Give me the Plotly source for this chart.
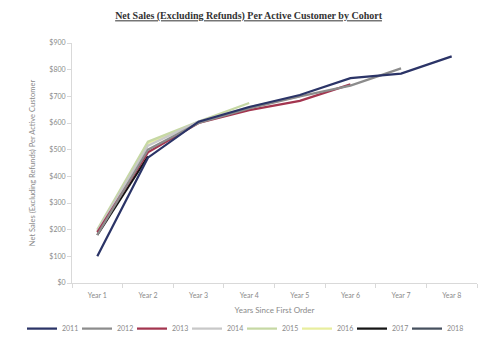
import plotly.graph_objects as go

years = ["Year 1", "Year 2", "Year 3", "Year 4", "Year 5", "Year 6", "Year 7", "Year 8"]
y_ticks = [0, 100, 200, 300, 400, 500, 600, 700, 800, 900]
y_tick_labels = ["$0", "$100", "$200", "$300", "$400", "$500", "$600", "$700", "$800", "$900"]

cohort_2011 = [100, 470, 605, 660, 705, 768, 785, 850]
cohort_2012 = [180, 500, 600, 655, 700, 740, 805]
cohort_2013 = [190, 490, 600, 648, 683, 745]
cohort_2014 = [195, 515, 605, 660, 700]
cohort_2015 = [200, 530, 605, 675]
cohort_2016 = [195, 525, 600]
cohort_2017 = [180, 475]
cohort_2018 = [190]

cohort_names = ["2011", "2012", "2013", "2014", "2015", "2016", "2017", "2018"]
cohort_values = [cohort_2011, cohort_2012, cohort_2013, cohort_2014,
                 cohort_2015, cohort_2016, cohort_2017, cohort_2018]
cohort_colors = ["#2b3467", "#8c8c8c", "#a3354f", "#c8c8c8",
                 "#c6d8a4", "#e8ee9e", "#151515", "#46505e"]

W, H = 478, 352
ML, MR, MT, MB = 72, 1, 43, 69
plot_w = W - ML - MR
LEGEND_START, LEGEND_STEP = 22, 55

fig = go.Figure()
# draw in reverse so 2011 is on top
for i in reversed(range(len(cohort_names))):
    vals = cohort_values[i]
    leg = "legend" if i == 0 else f"legend{i + 1}"
    fig.add_trace(go.Scatter(
        x=years[:len(vals)], y=vals, name=cohort_names[i], mode="lines",
        line=dict(color=cohort_colors[i], width=2.25), legend=leg,
        showlegend=True,
    ))

legend_common = dict(
    orientation="h", xanchor="left", y=-0.19, yanchor="middle",
    font=dict(size=7, color="#8a8a8a"),
    entrywidth=20, entrywidthmode="pixels", itemwidth=30,
    tracegroupgap=0, bgcolor="rgba(0,0,0,0)",
)

legends = {}
for i in range(len(cohort_names)):
    key = "legend" if i == 0 else f"legend{i + 1}"
    left = LEGEND_START + LEGEND_STEP * i
    legends[key] = dict(x=(left - ML) / plot_w, **legend_common)

fig.update_layout(
    width=W, height=H,
    margin=dict(l=ML, r=MR, t=MT, b=MB),
    showlegend=True,
    paper_bgcolor="white", plot_bgcolor="white",
    font=dict(family="Lato, Liberation Sans, sans-serif", size=7, color="#8a8a8a"),
    title=dict(
        text="<u><b>Net Sales (Excluding Refunds) Per Active Customer by Cohort</b></u>",
        x=0.52, xanchor="center", y=0.955, yanchor="middle",
        font=dict(family="Liberation Serif, serif", size=10, color="#333333"),
    ),
    xaxis=dict(
        type="category", categoryorder="array", categoryarray=years,
        range=[-0.5, 7.5], showgrid=False,
        showline=True, linecolor="#d9d9d9", linewidth=1,
        ticks="outside", tickson="boundaries", ticklen=4, tickcolor="#d9d9d9",
        ticklabelstandoff=6,
        tickfont=dict(size=7, color="#8a8a8a"),
        title=dict(text="Years Since First Order", font=dict(size=8, color="#8a8a8a"), standoff=8),
    ),
    yaxis=dict(
        range=[0, 900], tickvals=y_ticks, ticktext=y_tick_labels,
        showgrid=False, zeroline=False,
        showline=True, linecolor="#d9d9d9", linewidth=1,
        ticks="outside", ticklen=4, tickcolor="#d9d9d9",
        tickfont=dict(size=7, color="#8a8a8a"),
        title=dict(text="Net Sales (Excluding Refunds) Per Active Customer",
                   font=dict(size=7.5, color="#8a8a8a"), standoff=12),
    ),
    **legends,
)

fig.write_html("out.html")
